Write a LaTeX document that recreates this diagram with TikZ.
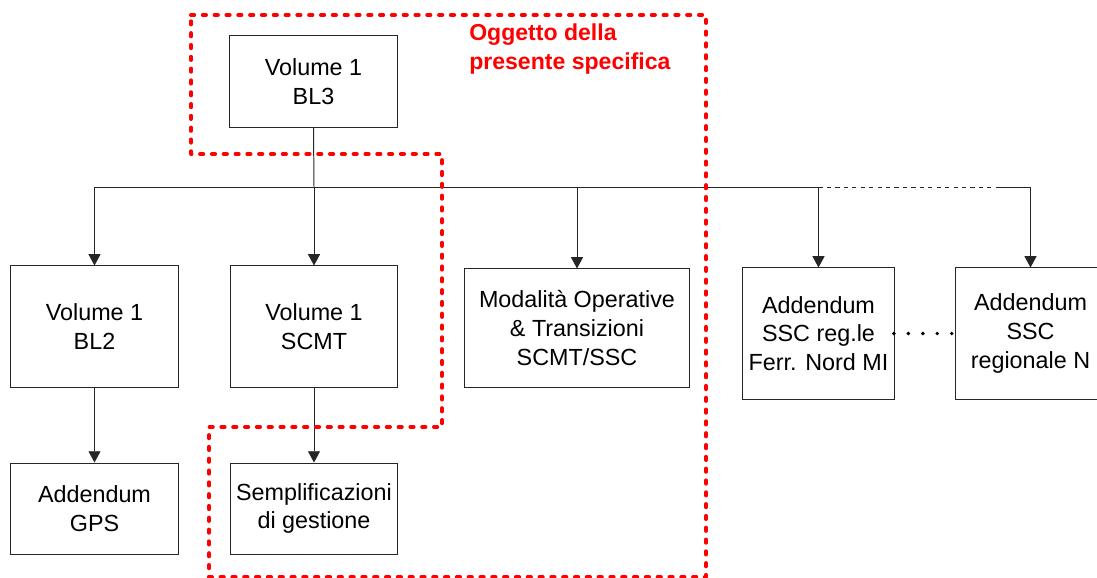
\documentclass[tikz,border=0pt]{standalone}
\usepackage{fontspec}
\setmainfont{Liberation Sans}
\usepackage{xcolor}
\usetikzlibrary{arrows.meta,positioning,calc}

\tikzset{
	blocco/.style={draw=black!85,line width=0.7pt,fill=white,inner sep=0pt,align=center,
		font=\fontsize{16.6}{20.4}\selectfont},
	freccia/.style={draw=black!85,line width=0.7pt,-{Triangle[width=8.5pt,length=8pt]}},
	linea/.style={draw=black!85,line width=0.7pt},
	confine/.style={draw=red,line width=2.8pt,dash pattern=on 2.3pt off 6.1pt,line cap=round,line join=round}
}

\begin{document}
\begin{tikzpicture}[x=0.025cm,y=-0.025cm]
		\clip (0,0) rectangle (1097,578);
		\fill[white] (0,0) rectangle (1097,578);
		\node[blocco,minimum width=4.175cm,minimum height=2.275cm] (bl3) at (313.5,81.5) {Volume 1\\ BL3};
		\node[blocco,minimum width=4.175cm,minimum height=3.025cm] (bl2) at (94.5,326.5) {Volume 1\\ BL2};
		\node[blocco,minimum width=4.175cm,minimum height=3.025cm] (scmt) at (314,326.5) {Volume 1\\ SCMT};
		\node[blocco,minimum width=4.175cm,minimum height=2.275cm] (gps) at (94.5,508.5) {Addendum\\GPS};
		\node[blocco,minimum width=4.175cm,minimum height=2.275cm] (sempl) at (314,508.5) {Semplificazioni\\di gestione};
		\node[blocco,minimum width=5.6cm,minimum height=2.95cm] (modal) at (577,328) {Modalità Operative\\\& Transizioni\\SCMT/SSC};
		\node[blocco,minimum width=3.775cm,minimum height=3.275cm] (ferr) at (818.5,333.5) {Addendum\\SSC reg.le\\Ferr. Nord MI};
		\node[blocco,minimum width=3.775cm,minimum height=3.275cm] (regn) at (1030.5,333.5) {Addendum\\SSC\\regionale N};
		\coordinate (bus) at (314,187);
		\coordinate (trattini) at (998,187);
		\draw[linea] (bl3.south) -- (bus);
		\draw[linea] (bl2.north |- bus) -- (ferr.north |- bus);
		\draw[linea,dashed,line width=0.5pt] (ferr.north |- bus) -- (trattini);
		\draw[linea] (trattini) -- (regn.north |- bus);
		\foreach \n in {bl2,scmt,modal,ferr,regn}
			\draw[freccia] (\n.north |- bus) -- (\n);
		\draw[freccia] (bl2) -- (gps);
		\draw[freccia] (scmt) -- (sempl);
		\draw[line width=2.8pt,line cap=round,dash pattern=on 0pt off 10.3pt,shorten <=-0.5pt] (ferr.east) -- (regn.west);
		\draw[confine] (191,15) -- (706,15) -- (706,577) -- (209,577) -- (209,427) -- (442,427) -- (442,154) -- (191,154) -- cycle;
		\node[anchor=north west,inner sep=0pt,align=left,text=red,font=\fontsize{16.4}{20}\selectfont\bfseries] (oggetto) at (469,24) {Oggetto della\\presente specifica};
	\end{tikzpicture}
\end{document}
